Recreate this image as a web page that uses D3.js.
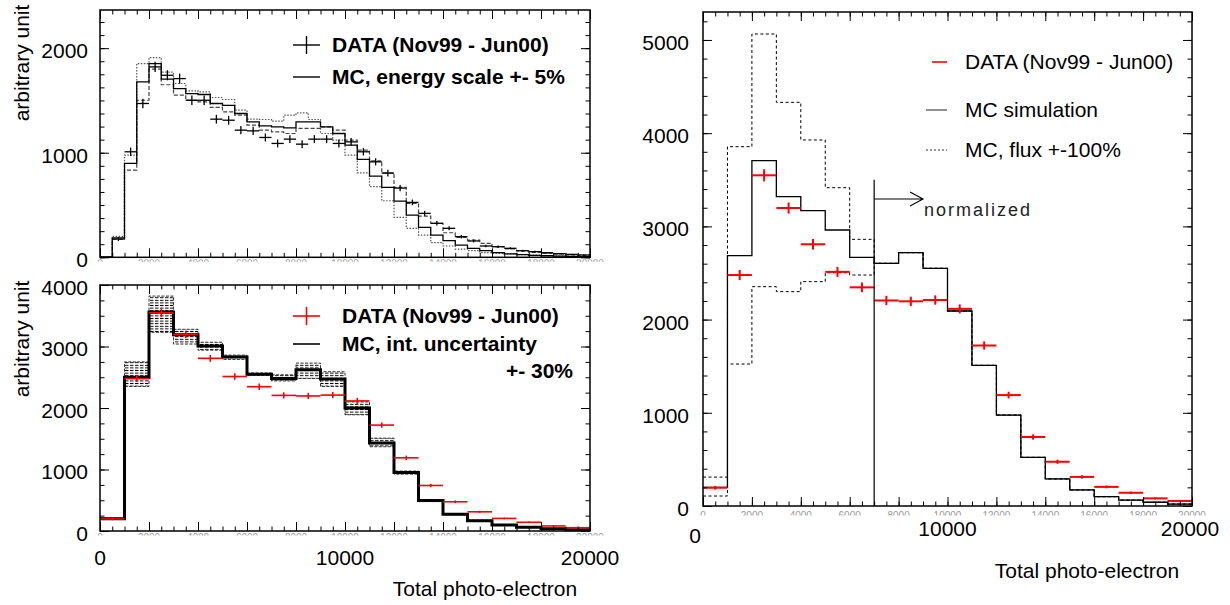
<!DOCTYPE html>
<html>
<head>
<meta charset="utf-8">
<script src="https://cdn.jsdelivr.net/npm/d3@7"></script>
<style>
  body { margin: 0; background: #fff; }
  svg text { font-family: "Liberation Sans", Arial, sans-serif; }
</style>
</head>
<body>
<svg id="chart" width="1230" height="605"></svg>
<script>
// ---- data ----
// top-left: 500 p.e. bins, energy scale +-5%
const fineBinWidth = 500
const topData = [0, 175, 1009, 1471, 1821, 1741, 1709, 1502, 1502, 1321, 1311, 1216, 1209, 1146, 1089, 1130, 1082, 1130, 1130, 1089,
  1104, 1009, 913, 805, 662, 525, 420, 325, 277, 197, 156, 108, 101, 86, 63, 54, 44, 35, 28, 22]
const topDataErr = [5, 20, 40, 45, 50, 48, 48, 45, 45, 42, 42, 40, 40, 38, 38, 38, 38, 38, 38, 38,
  37, 35, 34, 32, 30, 27, 24, 21, 19, 16, 14, 12, 11, 10, 9, 8, 7, 6, 5, 5]
const topMC = [3, 185, 898, 1677, 1853, 1703, 1614, 1566, 1557, 1471, 1452, 1375, 1295, 1257, 1247, 1238, 1295, 1295, 1247, 1184,
  1073, 936, 777, 669, 538, 404, 287, 213, 159, 117, 86, 63, 44, 32, 25, 19, 15, 12, 8, 6]
const topMCMinus5 = [5, 200, 977, 1853, 1910, 1770, 1662, 1592, 1582, 1528, 1509, 1407, 1321, 1318, 1302, 1359, 1381, 1318, 1184, 1120,
  977, 808, 675, 541, 382, 277, 213, 140, 108, 79, 63, 44, 38, 32, 25, 20, 15, 12, 9, 7]
const topMCPlus5 = [2, 170, 834, 1502, 1800, 1650, 1550, 1502, 1486, 1433, 1391, 1359, 1264, 1216, 1200, 1184, 1232, 1232, 1247, 1216,
  1120, 1025, 923, 808, 669, 516, 394, 325, 235, 191, 165, 134, 102, 80, 62, 48, 38, 30, 24, 18]

// 1000 p.e. bins, shared DATA
const coarseBinWidth = 1000
const dataCounts = [196, 2478, 3548, 3197, 2808, 2512, 2346, 2205, 2196, 2210, 2115, 1722, 1190, 740, 475, 312, 205, 142, 82, 54]
const dataErr = [20, 55, 65, 60, 57, 54, 52, 50, 50, 50, 48, 44, 36, 28, 22, 18, 15, 12, 10, 8]

// bottom-left: MC with interaction uncertainty band
const mcInt = [200, 2500, 3560, 3190, 3010, 2830, 2550, 2480, 2620, 2470, 2000, 1430, 950, 495, 272, 168, 98, 60, 38, 22]
const mcIntLow = [190, 2350, 3230, 3040, 2940, 2790, 2530, 2440, 2480, 2350, 1890, 1370, 925, 478, 262, 160, 92, 56, 35, 20]
const mcIntHigh = [210, 2750, 3820, 3280, 3070, 2860, 2570, 2540, 2730, 2590, 2100, 1510, 975, 510, 282, 176, 104, 64, 41, 24]

// right: MC simulation, flux +-100%
const mcSim = [200, 2686, 3705, 3319, 3168, 2961, 2668, 2604, 2718, 2550, 2092, 1509, 976, 522, 290, 172, 100, 64, 40, 21]
const mcFluxHigh = [310, 3855, 5064, 4331, 3927, 3415, 2861, 2604, 2718, 2550, 2092, 1509, 976, 522, 290, 172, 100, 64, 40, 21]
const mcFluxLow = [107, 1523, 2353, 2300, 2407, 2503, 2478, 2604, 2718, 2550, 2092, 1509, 976, 522, 290, 172, 100, 64, 40, 21]
const normStart = 7000
const normLineTop = 3500
const normArrow = [7000, 9000, 3294]

const topYTicks = [0, 1000, 2000]
const botYTicks = [0, 1000, 2000, 3000, 4000]
const rightYTicks = [0, 1000, 2000, 3000, 4000, 5000]
const xLabels = [0, 10000, 20000]
const smallXLabels = [0, 2000, 4000, 6000, 8000, 10000, 12000, 14000, 16000, 18000, 20000]

// ---- scales ----
const xL = d3.scaleLinear().domain([0, 20000]).range([100, 590])
const yTop = d3.scaleLinear().domain([0, 2365]).range([257.3, 10])
const yBot = d3.scaleLinear().domain([0, 4000]).range([531, 285])
const xR = d3.scaleLinear().domain([0, 20000]).range([703, 1192])
const yR = d3.scaleLinear().domain([0, 5300]).range([506, 12])

const svg = d3.select('#chart')
const defs = svg.append('defs')

const band = defs.append('pattern')
    .attr('id', 'band')
    .attr('width', 5).attr('height', 2.6)
    .attr('patternUnits', 'userSpaceOnUse')
band.append('line')
    .attr('x1', 0).attr('x2', 3.5).attr('y1', 1.3).attr('y2', 1.3)
    .attr('stroke', '#000').attr('stroke-width', 1)

function stepPath(x, y, values, width) {
  let pts = values.map((v, i) => [i * width, v])
  pts.push([values.length * width, values[values.length - 1]])
  return d3.line().x(d => x(d[0])).y(d => y(d[1])).curve(d3.curveStepAfter)(pts)
}

function drawHist(x, y, values, width, stroke, sw, dash) {
  svg.append('path')
      .attr('d', stepPath(x, y, values, width))
      .attr('fill', 'none')
      .attr('stroke', stroke)
      .attr('stroke-width', sw)
      .attr('stroke-dasharray', dash || null)
}

function drawCrosses(x, y, values, errs, width, color, sw) {
  let g = svg.append('g').attr('stroke', color).attr('stroke-width', sw)
  values.forEach((v, i) => {
    if (v <= 0) return
    g.append('line')
        .attr('x1', x(i * width)).attr('x2', x((i + 1) * width))
        .attr('y1', y(v)).attr('y2', y(v))
    g.append('line')
        .attr('x1', x((i + 0.5) * width)).attr('x2', x((i + 0.5) * width))
        .attr('y1', y(v - errs[i])).attr('y2', y(v + errs[i]))
  })
}

// clip = [top offset, height] of the visible strip of the tiny labels
function drawAxes(x, y, yMajor, yMinorStep, labelPad, clip) {
  const [x0, x1] = x.range()
  const [yb, yt] = y.range()
  const yMinor = d3.range(0, y.domain()[1], yMinorStep)
  const xMajor = d3.range(0, 20001, 2000)
  const xMinor = d3.range(0, 20001, 500)
  let g = svg.append('g')

  const tidy = s => {
    s.select('.domain').remove()
    s.selectAll('line').attr('stroke', '#000').attr('stroke-width', 1)
  }

  g.append('g').attr('transform', `translate(${x0},0)`)
      .call(d3.axisLeft(y).tickValues(yMinor).tickSize(-4.5).tickFormat(''))
      .call(tidy)
  let lab = g.append('g').attr('transform', `translate(${x0},0)`)
      .call(d3.axisLeft(y).tickValues(yMajor).tickSize(-9).tickPadding(labelPad).tickFormat(d3.format('d')))
      .call(tidy)
  lab.attr('font-size', 21).attr('font-family', '"Liberation Sans", Arial, sans-serif')
  lab.selectAll('text').attr('fill', '#000').attr('dy', '0.45em')

  g.append('g').attr('transform', `translate(${x1},0)`)
      .call(d3.axisRight(y).tickValues(yMinor).tickSize(-4.5).tickFormat(''))
      .call(tidy)
  g.append('g').attr('transform', `translate(${x1},0)`)
      .call(d3.axisRight(y).tickValues(yMajor).tickSize(-9).tickFormat(''))
      .call(tidy)

  for (let [pos, ax] of [[yt, d3.axisTop], [yb, d3.axisBottom]]) {
    g.append('g').attr('transform', `translate(0,${pos})`)
        .call(ax(x).tickValues(xMinor).tickSize(-4.5).tickFormat(''))
        .call(tidy)
    g.append('g').attr('transform', `translate(0,${pos})`)
        .call(ax(x).tickValues(xMajor).tickSize(-9).tickFormat(''))
        .call(tidy)
  }

  // tiny, mostly hidden tick labels under the frame
  const id = 'clip' + Math.round(x0) + Math.round(yb)
  defs.append('clipPath').attr('id', id)
      .append('rect')
      .attr('x', x0 - 30).attr('width', x1 - x0 + 60)
      .attr('y', yb + clip[0]).attr('height', clip[1])
  svg.append('g').attr('clip-path', `url(#${id})`)
      .selectAll('text')
      .data(smallXLabels)
      .join('text')
      .attr('x', d => x(d))
      .attr('y', yb + clip[0] + 7.5)
      .attr('text-anchor', 'middle')
      .attr('font-size', 10)
      .attr('fill', '#999')
      .text(d => d)

  svg.append('rect')
      .attr('x', x0).attr('y', yt)
      .attr('width', x1 - x0).attr('height', yb - yt)
      .attr('fill', 'none').attr('stroke', '#000').attr('stroke-width', 1.5)
}

function text(x, y, str, opts) {
  let t = svg.append('text')
      .attr('x', x).attr('y', y)
      .attr('font-size', opts.size || 21)
      .attr('text-anchor', opts.anchor || 'start')
      .attr('dominant-baseline', 'central')
      .attr('fill', opts.fill || '#000')
      .text(str)
  if (opts.bold) t.attr('font-weight', 'bold')
  if (opts.rotate) t.attr('transform', `rotate(-90,${x},${y})`)
  return t
}

// ---- top-left panel ----
drawHist(xL, yTop, topMCMinus5, fineBinWidth, '#555', 1.2, '1.5,1.5')
drawHist(xL, yTop, topMCPlus5, fineBinWidth, '#444', 1.2, '4,2')
drawHist(xL, yTop, topMC, fineBinWidth, '#000', 1.3)
drawCrosses(xL, yTop, topData, topDataErr, fineBinWidth, '#000', 1.3)
drawAxes(xL, yTop, topYTicks, 125, 12, [2, 2.5])

svg.append('line').attr('x1', 293).attr('x2', 320).attr('y1', 45).attr('y2', 45).attr('stroke', '#000').attr('stroke-width', 1.4)
svg.append('line').attr('x1', 306.5).attr('x2', 306.5).attr('y1', 36).attr('y2', 54).attr('stroke', '#000').attr('stroke-width', 1.4)
svg.append('line').attr('x1', 293).attr('x2', 320).attr('y1', 77).attr('y2', 77).attr('stroke', '#000').attr('stroke-width', 1.4)
text(332, 44, 'DATA (Nov99 - Jun00)', { bold: true })
text(332, 76, 'MC, energy scale +- 5%', { bold: true })
text(21, 63, 'arbitrary unit', { rotate: true, anchor: 'middle' })

// ---- bottom-left panel ----
let bandG = svg.append('g')
mcInt.forEach((v, i) => {
  bandG.append('rect')
      .attr('x', xL(i * coarseBinWidth))
      .attr('width', xL(coarseBinWidth) - xL(0))
      .attr('y', yBot(mcIntHigh[i]))
      .attr('height', yBot(mcIntLow[i]) - yBot(mcIntHigh[i]))
      .attr('fill', 'url(#band)')
})
drawHist(xL, yBot, mcIntHigh, coarseBinWidth, '#222', 0.9, '3,1.5')
drawHist(xL, yBot, mcIntLow, coarseBinWidth, '#222', 0.9, '3,1.5')
drawHist(xL, yBot, mcInt, coarseBinWidth, '#000', 3)
drawCrosses(xL, yBot, dataCounts, dataErr, coarseBinWidth, '#f00', 1.6)
drawAxes(xL, yBot, botYTicks, 250, 12, [2, 2.5])

svg.append('line').attr('x1', 293).attr('x2', 320).attr('y1', 316).attr('y2', 316).attr('stroke', '#f00').attr('stroke-width', 1.6)
svg.append('line').attr('x1', 306.5).attr('x2', 306.5).attr('y1', 307).attr('y2', 325).attr('stroke', '#f00').attr('stroke-width', 1.6)
svg.append('line').attr('x1', 293).attr('x2', 320).attr('y1', 344).attr('y2', 344).attr('stroke', '#000').attr('stroke-width', 1.6)
text(342, 315, 'DATA (Nov99 - Jun00)', { bold: true })
text(342, 343, 'MC, int. uncertainty', { bold: true })
text(573, 370, '+- 30%', { bold: true, anchor: 'end' })
text(21, 339, 'arbitrary unit', { rotate: true, anchor: 'middle' })
xLabels.forEach(v => text(xL(v), 557, String(v), { anchor: 'middle' }))
text(485, 588, 'Total photo-electron', { anchor: 'middle' })

// ---- right panel ----
drawHist(xR, yR, mcFluxHigh, coarseBinWidth, '#000', 1, '3,2.5')
drawHist(xR, yR, mcFluxLow, coarseBinWidth, '#000', 1, '3,2.5')
drawHist(xR, yR, mcSim, coarseBinWidth, '#000', 1.3)
drawCrosses(xR, yR, dataCounts, dataErr, coarseBinWidth, '#f00', 2)
drawAxes(xR, yR, rightYTicks, 200, 14, [5, 4.5])

svg.append('line')
    .attr('x1', xR(normStart)).attr('x2', xR(normStart))
    .attr('y1', yR(0)).attr('y2', yR(normLineTop))
    .attr('stroke', '#000').attr('stroke-width', 1.2)
let tipX = xR(normArrow[1]), ay = yR(normArrow[2])
svg.append('path')
    .attr('d', `M${xR(normArrow[0])},${ay}H${tipX}M${tipX - 13},${ay - 7}L${tipX},${ay}L${tipX - 13},${ay + 7}`)
    .attr('fill', 'none').attr('stroke', '#000').attr('stroke-width', 1.1)
text(tipX + 1, 210, 'normalized', { size: 18 })
    .attr('font-family', '"DejaVu Sans", sans-serif')
    .attr('font-weight', 200)
    .attr('letter-spacing', 2)
    .attr('fill', '#222')

svg.append('line').attr('x1', 932).attr('x2', 947).attr('y1', 62).attr('y2', 62).attr('stroke', '#f00').attr('stroke-width', 1.6)
svg.append('line').attr('x1', 926).attr('x2', 947).attr('y1', 110).attr('y2', 110).attr('stroke', '#555').attr('stroke-width', 1.3)
svg.append('line').attr('x1', 926).attr('x2', 947).attr('y1', 150).attr('y2', 150).attr('stroke', '#333').attr('stroke-width', 1).attr('stroke-dasharray', '2,2')
text(965, 61, 'DATA (Nov99 - Jun00)', {})
text(965, 109, 'MC simulation', {})
text(965, 149, 'MC, flux +-100%', {})
text(695, 535, '0', { anchor: 'middle' })
text(xR(10000), 528, '10000', { anchor: 'middle' })
text(xR(20000) - 2, 528, '20000', { anchor: 'middle' })
text(1087, 570, 'Total photo-electron', { anchor: 'middle' })
</script>
</body>
</html>
